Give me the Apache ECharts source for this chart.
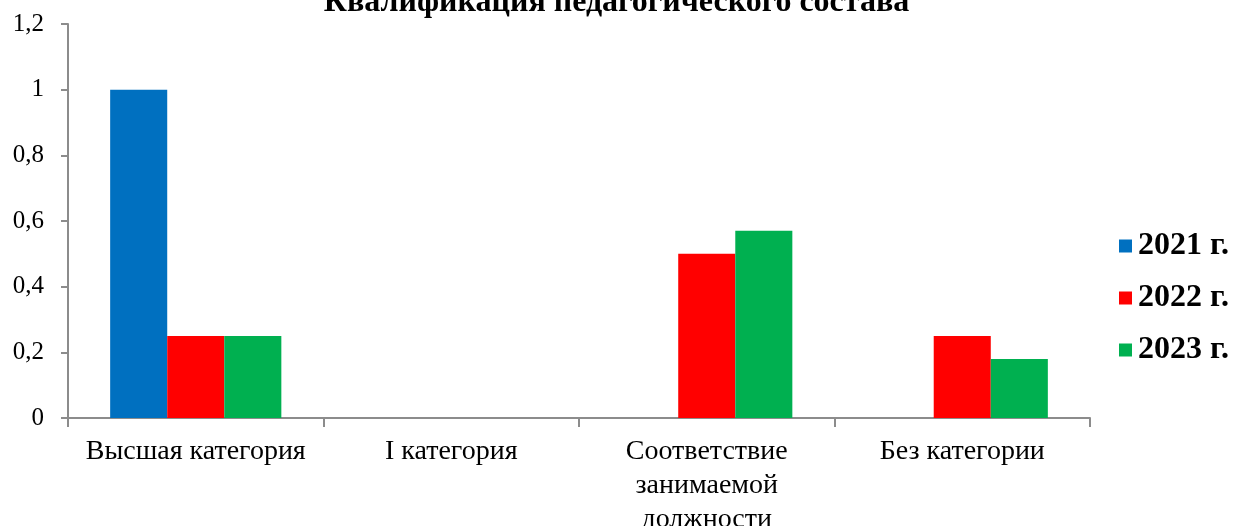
<!DOCTYPE html>
<html>
<head>
<meta charset="utf-8">
<script src="https://cdn.jsdelivr.net/npm/echarts@6/dist/echarts.min.js"></script>
<style>
html,body{margin:0;padding:0;background:#fff;}
#chart{width:1233px;height:526px;}
</style>
</head>
<body>
<div id="chart"></div>
<script>
// data
var categories = ['Высшая категория', 'I категория', 'Соответствие\nзанимаемой\nдолжности', 'Без категории'];
var years = ['2021 г.', '2022 г.', '2023 г.'];
var v2021 = [1, 0, 0, 0];
var v2022 = [0.25, 0, 0.5, 0.25];
var v2023 = [0.25, 0, 0.57, 0.18];
var colors = ['#0070C0', '#FF0000', '#00B050'];

var font = '"Liberation Serif", "Times New Roman", serif';
var axisGray = '#8c8c8c';

var myChart = echarts.init(document.getElementById('chart'));
var option = {
  animation: false,
  color: colors,
  title: {
    text: 'Квалификация педагогического состава',
    left: 'center',
    top: -18,
    textStyle: {
      fontFamily: font,
      fontSize: 32,
      fontWeight: 'bold',
      color: '#000'
    }
  },
  legend: {
    orient: 'vertical',
    left: 1114,
    top: 225,
    itemWidth: 13,
    itemHeight: 13,
    itemGap: 20,
    icon: 'rect',
    textStyle: {
      fontFamily: font,
      fontSize: 32,
      fontWeight: 'bold',
      color: '#000',
      padding: [0, 0, 0, 1]
    },
    data: years
  },
  grid: {
    left: 68,
    right: 143,
    top: 24,
    bottom: 108,
    containLabel: false,
    outerBoundsMode: 'none'
  },
  xAxis: {
    type: 'category',
    data: categories,
    axisLine: {lineStyle: {color: axisGray, width: 2}},
    axisTick: {show: true, length: 9, alignWithLabel: false, lineStyle: {color: axisGray, width: 2}},
    axisLabel: {
      fontFamily: font,
      fontSize: 28,
      color: '#000',
      margin: 17,
      lineHeight: 34,
      interval: 0
    }
  },
  yAxis: {
    type: 'value',
    min: 0,
    max: 1.2,
    interval: 0.2,
    splitLine: {show: false},
    axisLine: {show: true, lineStyle: {color: axisGray, width: 2}},
    axisTick: {show: true, length: 7, lineStyle: {color: axisGray, width: 2}},
    axisLabel: {
      fontFamily: font,
      fontSize: 25,
      color: '#000',
      margin: 24,
      formatter: function (v) {
        return String(Math.round(v * 10) / 10).replace('.', ',');
      }
    }
  },
  series: [
    {name: years[0], type: 'bar', data: v2021, barGap: '0%', barCategoryGap: '33%'},
    {name: years[1], type: 'bar', data: v2022, barGap: '0%', barCategoryGap: '33%'},
    {name: years[2], type: 'bar', data: v2023, barGap: '0%', barCategoryGap: '33%'}
  ]
};
myChart.setOption(option);
</script>
</body>
</html>
